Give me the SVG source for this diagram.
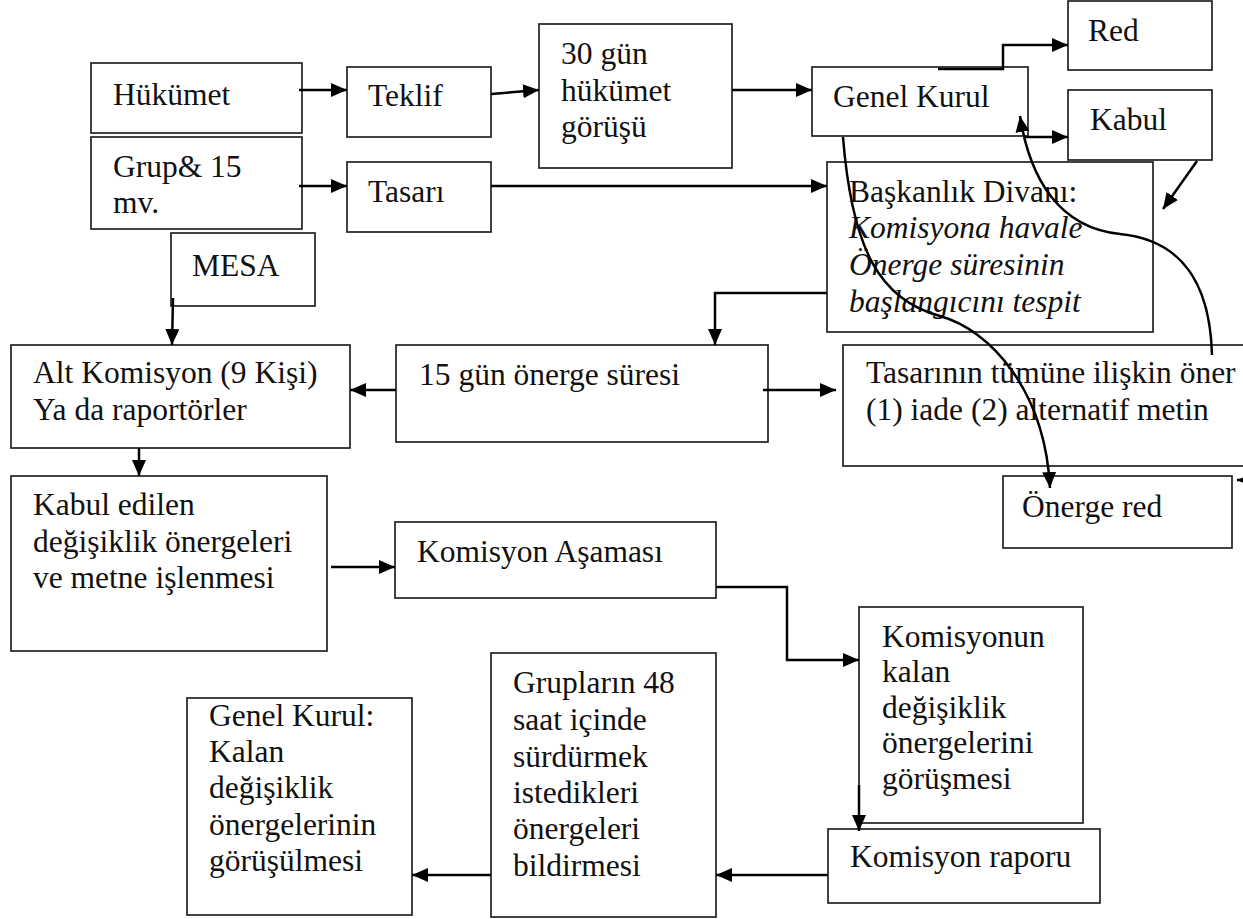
<svg xmlns="http://www.w3.org/2000/svg" width="1243" height="919" viewBox="0 0 1243 919">
<defs>
<style>
.box{fill:#fff;stroke:#222;stroke-width:1.7}
.t{font-family:"Liberation Serif","Times New Roman",serif;font-size:31.5px;fill:#111}
.i{font-style:italic}
.c{fill:none;stroke:#000;stroke-width:2.5}
</style>
<marker id="ah" markerUnits="userSpaceOnUse" markerWidth="16" markerHeight="14" refX="16" refY="7" orient="auto">
<path d="M0,0 L16,7 L0,14 z" fill="#000"/>
</marker>
</defs>
<rect width="1243" height="919" fill="#fff"/>

<g id="n-hukumet"><rect class="box" x="91" y="63" width="211" height="70"/><text class="t" x="113" y="105">Hükümet</text></g>
<g id="n-grup"><rect class="box" x="91" y="137" width="211" height="92"/><text class="t" x="113" y="177">Grup&amp; 15</text><text class="t" x="113" y="213">mv.</text></g>
<g id="n-mesa"><rect class="box" x="171" y="233" width="144" height="73"/><text class="t" x="192" y="276">MESA</text></g>
<g id="n-teklif"><rect class="box" x="347" y="67" width="144" height="70"/><text class="t" x="368" y="106">Teklif</text></g>
<g id="n-tasari"><rect class="box" x="347" y="162" width="144" height="70"/><text class="t" x="368" y="202">Tasarı</text></g>
<g id="n-30gun"><rect class="box" x="539" y="24" width="193" height="144"/><text class="t" x="561" y="64">30 gün</text><text class="t" x="561" y="101">hükümet</text><text class="t" x="561" y="137">görüşü</text></g>
<g id="n-genelkurul"><rect class="box" x="812" y="67" width="216" height="69"/><text class="t" x="833" y="107">Genel Kurul</text></g>
<g id="n-red"><rect class="box" x="1068" y="1" width="144" height="69"/><text class="t" x="1088" y="41">Red</text></g>
<g id="n-kabul"><rect class="box" x="1068" y="90" width="144" height="70"/><text class="t" x="1090" y="130">Kabul</text></g>
<g id="n-baskanlik"><rect class="box" x="827" y="162" width="326" height="170"/><text class="t" x="849" y="202">Başkanlık Divanı:</text><text class="t i" x="849" y="238">Komisyona havale</text><text class="t i" x="849" y="275">Önerge süresinin</text><text class="t i" x="849" y="312">başlangıcını tespit</text></g>
<g id="n-15gun"><rect class="box" x="396" y="345" width="372" height="97"/><text class="t" x="419" y="385">15 gün önerge süresi</text></g>
<g id="n-tasarinin"><rect class="box" x="843" y="345" width="420" height="121"/><text class="t" x="866" y="383">Tasarının tümüne ilişkin öner</text><text class="t" x="866" y="420">(1) iade (2) alternatif metin</text></g>
<g id="n-onergered"><rect class="box" x="1003" y="476" width="229" height="72"/><text class="t" x="1022" y="517">Önerge red</text></g>
<g id="n-altkomisyon"><rect class="box" x="11" y="345" width="339" height="103"/><text class="t" x="33" y="383">Alt Komisyon (9 Kişi)</text><text class="t" x="33" y="420">Ya da raportörler</text></g>
<g id="n-kabuledilen"><rect class="box" x="11" y="476" width="316" height="175"/><text class="t" x="33" y="515">Kabul edilen</text><text class="t" x="33" y="552">değişiklik önergeleri</text><text class="t" x="33" y="588">ve metne işlenmesi</text></g>
<g id="n-komisyonasamasi"><rect class="box" x="395" y="522" width="321" height="76"/><text class="t" x="417" y="562">Komisyon Aşaması</text></g>
<g id="n-komisyonun"><rect class="box" x="859" y="607" width="224" height="216"/><text class="t" x="882" y="647">Komisyonun</text><text class="t" x="882" y="682">kalan</text><text class="t" x="882" y="718">değişiklik</text><text class="t" x="882" y="753">önergelerini</text><text class="t" x="882" y="789">görüşmesi</text></g>
<g id="n-komisyonraporu"><rect class="box" x="828" y="829" width="272" height="74"/><text class="t" x="850" y="867">Komisyon raporu</text></g>
<g id="n-gruplarin"><rect class="box" x="491" y="653" width="225" height="264"/><text class="t" x="513" y="693">Grupların 48</text><text class="t" x="513" y="730">saat içinde</text><text class="t" x="513" y="767">sürdürmek</text><text class="t" x="513" y="803">istedikleri</text><text class="t" x="513" y="839">önergeleri</text><text class="t" x="513" y="876">bildirmesi</text></g>
<g id="n-genelkurulkalan"><rect class="box" x="187" y="698" width="225" height="217"/><text class="t" x="209" y="726">Genel Kurul:</text><text class="t" x="209" y="762">Kalan</text><text class="t" x="209" y="798">değişiklik</text><text class="t" x="209" y="835">önergelerinin</text><text class="t" x="209" y="871">görüşülmesi</text></g>

<g id="connectors">
<path class="c" d="M299,90 L347,90" marker-end="url(#ah)"/>
<path class="c" d="M299,186 L347,186" marker-end="url(#ah)"/>
<path class="c" d="M491,94 L539,90" marker-end="url(#ah)"/>
<path class="c" d="M732,90 L812,90" marker-end="url(#ah)"/>
<path class="c" d="M491,186 L827,186" marker-end="url(#ah)"/>
<path class="c" d="M938,69 L1003,69 L1003,45 L1068,45" marker-end="url(#ah)"/>
<path class="c" d="M1025,137 L1068,137" marker-end="url(#ah)"/>
<path class="c" d="M1197,161 L1163,209" marker-end="url(#ah)"/>
<path class="c" d="M173,298 L172,345" marker-end="url(#ah)"/>
<path class="c" d="M827,293 L715,293 L715,345" marker-end="url(#ah)"/>
<path class="c" d="M396,390 L350,390" marker-end="url(#ah)"/>
<path class="c" d="M763,390 L836,390" marker-end="url(#ah)"/>
<path class="c" d="M139,448 L139,476" marker-end="url(#ah)"/>
<path class="c" d="M331,567 L395,567" marker-end="url(#ah)"/>
<path class="c" d="M716,587 L787,587 L787,660 L859,660" marker-end="url(#ah)"/>
<path class="c" d="M859,785 L859,831" marker-end="url(#ah)"/>
<path class="c" d="M828,875 L716,875" marker-end="url(#ah)"/>
<path class="c" d="M491,875 L412,875" marker-end="url(#ah)"/>
<path class="c" d="M843,137 C852,250 880,300 940,316 C990,330 1045,390 1050,488" marker-end="url(#ah)"/>
<path class="c" d="M1212,355 C1210,280 1180,240 1120,234 C1060,228 1030,180 1020,116" marker-end="url(#ah)"/>
<path class="c" d="M1255,480 L1237,480" marker-end="url(#ah)"/>
</g>
</svg>
